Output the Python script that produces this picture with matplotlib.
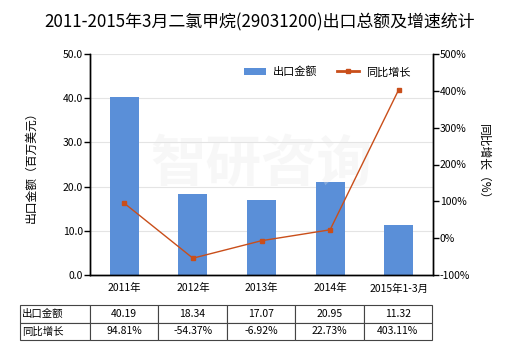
import numpy as np
import matplotlib.pyplot as plt
from matplotlib.lines import Line2D
from matplotlib.patches import Patch

plt.rcParams['font.family'] = ['Noto Sans CJK SC', 'DejaVu Sans']
plt.rcParams['axes.unicode_minus'] = False

# 数据
categories = ['2011年', '2012年', '2013年', '2014年', '2015年1-3月']
export_value = [40.19, 18.34, 17.07, 20.95, 11.32]
growth_rate = [94.81, -54.37, -6.92, 22.73, 403.11]
row_labels = ['出口金额', '同比增长']

bar_color = '#5A8FD8'
line_color = '#C94E1A'

fig = plt.figure(figsize=(5.2, 3.5), dpi=100)
ax = fig.add_axes([90 / 520, 1 - 275 / 350, 343 / 520, 221 / 350])
ax2 = ax.twinx()

x = np.arange(len(categories))

# 柱状图：出口金额
ax.bar(x, export_value, width=0.42, color=bar_color, zorder=2)
ax.set_ylim(0, 50)
ax.set_yticks(np.arange(0, 51, 10))
ax.set_yticklabels([f'{v:.1f}' for v in np.arange(0, 51, 10)], fontsize=7.5)
ax.set_xlim(-0.5, len(categories) - 0.5)
ax.set_xticks(x)
ax.set_xticklabels(categories, fontsize=7.5)
ax.tick_params(axis='x', length=0, pad=6)
ax.tick_params(axis='y', length=4, width=1, pad=1)
ax.grid(axis='y', color='#E4E4E4', linewidth=0.8, zorder=0)
ax.set_ylabel('出口金额（百万美元）', fontsize=8.5, labelpad=18)

# 折线图：同比增长
ax2.plot(x, growth_rate, color=line_color, linewidth=1, marker='s',
         markersize=3, zorder=3)
ax2.set_ylim(-100, 500)
ax2.set_yticks(np.arange(-100, 501, 100))
ax2.set_yticklabels([f'{v}%' for v in np.arange(-100, 501, 100)], fontsize=7.5)
ax2.tick_params(axis='y', length=4, width=1, pad=1)
ax2.set_ylabel('同比增长（%）', fontsize=8.5, rotation=270, labelpad=14)

for a in (ax, ax2):
    a.spines['top'].set_visible(False)
    for s in ('left', 'right', 'bottom'):
        a.spines[s].set_linewidth(1)
        a.spines[s].set_color('black')

# 水印
ax.text(0.5, 0.5, '智研咨询', transform=ax.transAxes, fontsize=40,
        fontweight='bold', color='#E6E6E6', alpha=0.3, ha='center',
        va='center', zorder=4)

# 标题
fig.text(0.5, 1 - 22 / 350, '2011-2015年3月二氯甲烷(29031200)出口总额及增速统计',
         fontsize=12.2, ha='center', va='center')

# 图例
handles = [Patch(facecolor=bar_color),
           Line2D([0], [0], color=line_color, linewidth=2, marker='s',
                  markersize=3)]
fig.legend(handles, row_labels, loc='center',
           bbox_to_anchor=(327 / 520, 1 - 72 / 350), ncol=2, frameon=False,
           fontsize=8, handlelength=2.0, columnspacing=1.8, handletextpad=0.6)

# 数据表
cell_text = [[row_labels[0]] + [f'{v:.2f}' for v in export_value],
             [row_labels[1]] + [f'{v:.2f}%' for v in growth_rate]]
col_w = [70] + [68.4] * len(categories)
tbl = ax.table(cellText=cell_text, cellLoc='center',
               colWidths=[w / sum(col_w) for w in col_w],
               bbox=[-70 / 343, -0.294, 412 / 343, 0.158])
tbl.auto_set_font_size(False)
tbl.set_fontsize(7.5)
for (r, c), cell in tbl.get_celld().items():
    cell.set_edgecolor('#444444')
    cell.set_linewidth(0.8)
    if c == 0:
        cell.get_text().set_horizontalalignment('left')
        cell.PAD = 0.03

fig.savefig('out.png', dpi=100)
